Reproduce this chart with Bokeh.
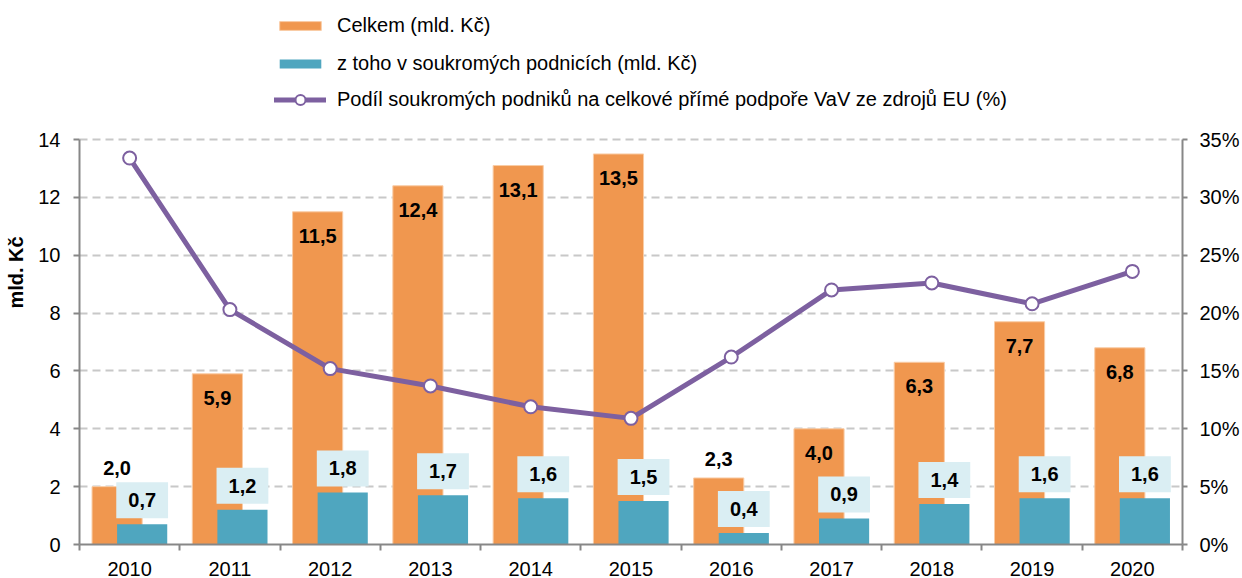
import numpy as np
from bokeh.plotting import figure
from bokeh.models import (ColumnDataSource, Range1d, LinearAxis, FixedTicker,
                          PrintfTickFormatter, LabelSet, Legend, LegendItem)
from bokeh.core.properties import value
from bokeh.embed import file_html
from bokeh.resources import INLINE

# ---- data ----
years = ["2010", "2011", "2012", "2013", "2014", "2015", "2016", "2017", "2018", "2019", "2020"]
celkem = [2.0, 5.9, 11.5, 12.4, 13.1, 13.5, 2.3, 4.0, 6.3, 7.7, 6.8]
soukrome = [0.7, 1.2, 1.8, 1.7, 1.6, 1.5, 0.4, 0.9, 1.4, 1.6, 1.6]
podil = [33.4, 20.3, 15.2, 13.7, 11.9, 10.9, 16.2, 22.0, 22.6, 20.8, 23.6]
left_ticks = [0, 2, 4, 6, 8, 10, 12, 14]
right_ticks = [0, 5, 10, 15, 20, 25, 30, 35]
legend_labels = ["Celkem (mld. Kč)",
                 "z toho v soukromých podnicích (mld. Kč)",
                 "Podíl soukromých podniků na celkové přímé podpoře VaV ze zdrojů EU (%)"]
y_title = "mld. Kč"

# ---- style / layout ----
FONT = "Liberation Sans"
ORANGE = "#F0974F"
TEAL = "#4FA6BF"
PURPLE = "#7D60A0"
BOX = "#DAEEF3"
GRID = "#C8C8C8"
AXIS = "#878787"

W, H = 1242, 578
B_LEFT, B_RIGHT, B_BOTTOM = 79, 60, 34
FRAME_H = H - B_BOTTOM          # frame runs from the top of the figure
DATA_H = FRAME_H - 139          # part of the frame used by the axes (legend sits above)
scale = FRAME_H / DATA_H
Y_MAX, P_MAX = left_ticks[-1], right_ticks[-1]

n = len(years)
pos = np.arange(n) + 0.5
fmt = lambda v: f"{v:.1f}".replace(".", ",")

src = ColumnDataSource(dict(
    x=pos, x_c=pos - 0.125, x_s=pos + 0.125,
    celkem=celkem, soukr=soukrome, podil=podil,
    lab_c=[fmt(v) for v in celkem],
    lab_s=[fmt(v) for v in soukrome],
    off_c=[-24 if v >= 3 else 19 for v in celkem],
))

p = figure(width=W, height=H, x_range=Range1d(0, n), y_range=Range1d(0, Y_MAX * scale),
           output_backend="svg", toolbar_location=None,
           min_border_left=B_LEFT, min_border_right=B_RIGHT, min_border_top=0,
           min_border_bottom=B_BOTTOM)
p.extra_y_ranges = {"pct": Range1d(0, P_MAX * scale)}
p.outline_line_color = None
p.background_fill_color = "white"
p.border_fill_color = "white"

# grid
p.xgrid.visible = False
p.ygrid.ticker = FixedTicker(ticks=left_ticks[1:])
p.ygrid.grid_line_color = GRID
p.ygrid.grid_line_width = 2
p.ygrid.grid_line_dash = "8 5"

def style_axis(ax, tick_out):
    ax.axis_line_color = AXIS
    ax.axis_line_width = 2
    ax.major_tick_line_color = AXIS
    ax.major_tick_line_width = 2
    ax.major_tick_out = tick_out
    ax.major_tick_in = 0
    ax.minor_tick_line_color = None
    ax.major_label_text_font = FONT
    ax.major_label_text_font_size = "20px"
    ax.major_label_text_color = "#000000"

# left axis
ly = p.yaxis[0]
ly.ticker = FixedTicker(ticks=left_ticks)
ly.bounds = (0, Y_MAX)
style_axis(ly, 6)
ly.major_label_standoff = 13
ly.axis_label = y_title
ly.axis_label_text_font = FONT
ly.axis_label_text_font_size = "20px"
ly.axis_label_text_font_style = "bold"
ly.axis_label_text_color = "#000000"
ly.axis_label_standoff = 8

# right axis
ry = LinearAxis(y_range_name="pct", ticker=FixedTicker(ticks=right_ticks),
                formatter=PrintfTickFormatter(format="%d%%"), bounds=(0, P_MAX))
style_axis(ry, 5)
ry.major_label_standoff = 12
p.add_layout(ry, "right")

# x axis: labels at centres, tick marks at boundaries
xa = p.xaxis[0]
xa.ticker = FixedTicker(ticks=list(pos), minor_ticks=list(range(n + 1)))
xa.major_label_overrides = {float(c): y for c, y in zip(pos, years)}
style_axis(xa, 0)
xa.major_tick_line_color = None
xa.minor_tick_line_color = AXIS
xa.minor_tick_line_width = 2
xa.minor_tick_out = 6
xa.minor_tick_in = 0
xa.major_label_standoff = 11

# bars
r_c = p.vbar(x="x_c", top="celkem", width=0.5, source=src,
             fill_color=ORANGE, line_color="#F9CCA6", line_width=1)
r_s = p.vbar(x="x_s", top="soukr", width=0.5, source=src,
             fill_color=TEAL, line_color=None)

# line
r_l = p.line(x="x", y="podil", source=src, y_range_name="pct",
             line_color=PURPLE, line_width=5, line_join="round", line_cap="round")
r_m = p.scatter(x="x", y="podil", source=src, y_range_name="pct", size=13,
                fill_color="white", line_color=PURPLE, line_width=2)

# labels
lab_c = LabelSet(x="x_c", y="celkem", text="lab_c", y_offset="off_c", source=src,
                 text_align="center", text_baseline="middle",
                 text_font=value(FONT), text_font_size="20px", text_font_style="bold",
                 text_color="#000000")
p.add_layout(lab_c)
p.text(x="x_s", y="soukr", text="lab_s", y_offset=-24, source=src,
       text_align="center", text_baseline="middle",
       text_font=value(FONT), text_font_size="20px", text_font_style="bold",
       text_color="#000000", background_fill_color=BOX,
       padding=dict(left=12, right=12, top=11, bottom=11))

common = dict(orientation="vertical", glyph_width=52, label_height=23, label_standoff=11,
              padding=0, margin=0, label_text_font=FONT, label_text_font_size="20px",
              label_text_color="#000000", background_fill_alpha=0, border_line_color=None)
legend_a = Legend(items=[LegendItem(label=legend_labels[0], renderers=[r_c]),
                         LegendItem(label=legend_labels[1], renderers=[r_s])],
                  location=(195, FRAME_H - 75), glyph_height=11, spacing=15, **common)
legend_b = Legend(items=[LegendItem(label=legend_labels[2], renderers=[r_l, r_m])],
                  location=(195, FRAME_H - 112), glyph_height=25, spacing=0, **common)
p.add_layout(legend_a)
p.add_layout(legend_b)

open("out.html", "w").write(file_html(p, INLINE))
